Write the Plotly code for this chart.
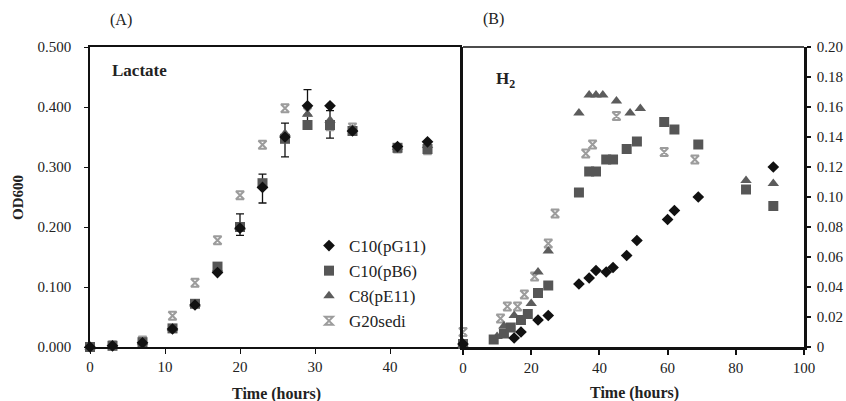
import plotly.graph_objects as go

# ---------------- data ----------------
series_names = ["C10(pG11)", "C10(pB6)", "C8(pE11)", "G20sedi"]

# (A) Lactate, OD600
lac_t = [0, 3, 7, 11, 14, 17, 20, 23, 26, 29, 32, 35, 41, 45]
lac_pG11 = [0.000, 0.002, 0.007, 0.030, 0.070, 0.124, 0.198, 0.266, 0.350, 0.402, 0.402, 0.360, 0.334, 0.342]
lac_pB6 = [0.000, 0.002, 0.008, 0.031, 0.072, 0.134, 0.200, 0.273, 0.347, 0.370, 0.370, 0.360, 0.332, 0.330]
lac_pE11 = [0.000, 0.002, 0.008, 0.031, 0.071, 0.130, 0.199, 0.270, 0.356, 0.388, 0.378, 0.363, 0.333, 0.336]
lac_G20 = [0.000, 0.003, 0.011, 0.052, 0.107, 0.178, 0.253, 0.337, 0.398, 0.392, 0.368, 0.366, 0.331, 0.328]

# error bars shown in (A)
err_t = [20, 23, 26, 29, 32]
err_mean = [0.204, 0.264, 0.345, 0.400, 0.371]
err_sd = [0.018, 0.024, 0.028, 0.029, 0.023]

# (B) H2, OD600
h2_pG11_t = [0, 15, 17, 22, 25, 34, 37, 39, 42, 44, 48, 51, 60, 62, 69, 91]
h2_pG11 = [0.002, 0.006, 0.010, 0.018, 0.021, 0.042, 0.046, 0.051, 0.050, 0.053, 0.061, 0.071, 0.085, 0.091, 0.100, 0.120]

h2_pB6_t = [0, 9, 12, 14, 17, 19, 22, 25, 34, 37, 39, 42, 44, 48, 51, 59, 62, 69, 83, 91]
h2_pB6 = [0.002, 0.005, 0.009, 0.013, 0.018, 0.022, 0.036, 0.041, 0.103, 0.117, 0.117, 0.125, 0.125,
          0.132, 0.137, 0.150, 0.145, 0.135, 0.105, 0.094]

h2_pE11_t = [0, 10, 12, 15, 20, 22, 25, 34, 37, 39, 41, 45, 49, 52, 83, 91]
h2_pE11 = [0.002, 0.007, 0.014, 0.021, 0.029, 0.050, 0.064, 0.156, 0.168, 0.168, 0.168, 0.164, 0.156, 0.159, 0.111, 0.109]

h2_G20_t = [0, 11, 13, 16, 18, 21, 25, 27, 36, 38, 45, 59, 68]
h2_G20 = [0.010, 0.019, 0.027, 0.027, 0.035, 0.047, 0.069, 0.089, 0.129, 0.135, 0.154, 0.130, 0.125]

left_x_ticks = [0, 10, 20, 30, 40]
left_y_ticks = [0.0, 0.1, 0.2, 0.3, 0.4, 0.5]
left_y_text = ["0.000", "0.100", "0.200", "0.300", "0.400", "0.500"]
right_x_ticks = [0, 20, 40, 60, 80, 100]
right_y_ticks = [0.0, 0.02, 0.04, 0.06, 0.08, 0.10, 0.12, 0.14, 0.16, 0.18, 0.20]
right_y_text = ["0", "0.02", "0.04", "0.06", "0.08", "0.10", "0.12", "0.14", "0.16", "0.18", "0.20"]

# ---------------- styles ----------------
W, H = 846, 401
FONT = "Liberation Serif"

styles = {
    "C10(pG11)": dict(symbol="diamond", size=9, color="#111111", line=dict(width=0)),
    "C10(pB6)": dict(symbol="square", size=10, color="#565656", line=dict(width=0)),
    "C8(pE11)": dict(symbol="triangle-up", size=10, color="#5c5c5c", line=dict(width=0)),
    "G20sedi": dict(symbol="hourglass-open", size=8, color="#9c9c9c", line=dict(width=2, color="#9c9c9c")),
}
rank = {name: i + 1 for i, name in enumerate(series_names)}

left_data = {
    "C10(pG11)": (lac_t, lac_pG11),
    "C10(pB6)": (lac_t, lac_pB6),
    "C8(pE11)": (lac_t, lac_pE11),
    "G20sedi": (lac_t, lac_G20),
}
right_data = {
    "C10(pG11)": (h2_pG11_t, h2_pG11),
    "C10(pB6)": (h2_pB6_t, h2_pB6),
    "C8(pE11)": (h2_pE11_t, h2_pE11),
    "G20sedi": (h2_G20_t, h2_G20),
}

fig = go.Figure()

# error bars first (drawn under markers)
fig.add_trace(go.Scatter(
    x=err_t, y=err_mean, mode="markers", xaxis="x", yaxis="y",
    marker=dict(size=1, color="rgba(0,0,0,0)"),
    error_y=dict(type="data", array=err_sd, visible=True, color="#111111", thickness=1.3, width=4),
    showlegend=False, hoverinfo="skip", cliponaxis=False,
))

draw_order = ["G20sedi", "C8(pE11)", "C10(pB6)", "C10(pG11)"]
for name in draw_order:
    t, v = left_data[name]
    fig.add_trace(go.Scatter(
        x=t, y=v, mode="markers", name=name, legendgroup=name, legendrank=rank[name],
        xaxis="x", yaxis="y", marker=styles[name], cliponaxis=False,
    ))
for name in draw_order:
    t, v = right_data[name]
    fig.add_trace(go.Scatter(
        x=t, y=v, mode="markers", name=name, legendgroup=name, legendrank=rank[name],
        showlegend=False, xaxis="x2", yaxis="y2", marker=styles[name], cliponaxis=False,
    ))

ydom = [54 / H, 354 / H]
axis_common = dict(showgrid=False, zeroline=False, ticks="outside", tickcolor="#111111",
                   linecolor="#111111", automargin=False,
                   tickfont=dict(family=FONT, size=15, color="#222222"))


def note(text, x, y, size=16, **kw):
    return dict(text=text, x=x / W, y=1 - y / H, xref="paper", yref="paper", showarrow=False,
                xanchor=kw.pop("xanchor", "center"), yanchor="middle",
                font=dict(family=FONT, size=size, color="#222222"), **kw)


fig.update_layout(
    width=W, height=H,
    margin=dict(l=0, r=0, t=0, b=0, pad=0, autoexpand=False),
    paper_bgcolor="white", plot_bgcolor="white",
    font=dict(family=FONT, size=15, color="#222222"),
    xaxis=dict(domain=[90 / W, 462 / W], range=[0, 49.6], tickvals=left_x_ticks,
               ticklen=5, tickwidth=1.2, linewidth=1.5, mirror=True, anchor="y",
               ticklabelstandoff=0, **axis_common),
    yaxis=dict(domain=ydom, range=[0, 0.5], tickvals=left_y_ticks, ticktext=left_y_text,
               ticklen=4, tickwidth=1.2, linewidth=1.5, anchor="x", ticklabelstandoff=10,
               **axis_common),
    xaxis2=dict(domain=[463 / W, 804 / W], range=[0, 100], tickvals=right_x_ticks,
                ticklen=5, tickwidth=1.5, linewidth=3, anchor="y2", ticklabelstandoff=0,
                **axis_common),
    yaxis2=dict(domain=ydom, range=[0, 0.2], tickvals=right_y_ticks, ticktext=right_y_text,
                side="right", ticklen=4, tickwidth=1.5, linewidth=2.5, mirror=True, anchor="x2",
                ticklabelstandoff=3, **axis_common),
    legend=dict(x=309 / W, y=1 - 228 / H, xanchor="left", yanchor="top",
                bgcolor="rgba(0,0,0,0)", font=dict(family=FONT, size=17, color="#222222"),
                traceorder="grouped", tracegroupgap=0),
    shapes=[dict(type="line", xref="paper", yref="paper", x0=463 / W, x1=804 / W,
                 y0=354 / H, y1=354 / H, line=dict(color="#111111", width=1.5))],
    annotations=[
        note("(A)", 121, 20),
        note("(B)", 493, 19),
        note("<b>Lactate</b>", 110, 71, size=17, xanchor="left"),
        note("<b>H<sub>2</sub></b>", 494, 80, size=17, xanchor="left"),
        note("<b>OD600</b>", 18, 198, size=15, textangle=-90),
        note("<b>Time (hours)</b>", 276, 394),
        note("<b>Time (hours)</b>", 634, 393),
    ],
)

fig.write_html("out.html", config={"displayModeBar": False},
               post_script="document.body.style.margin='0';document.body.style.overflow='hidden';")
